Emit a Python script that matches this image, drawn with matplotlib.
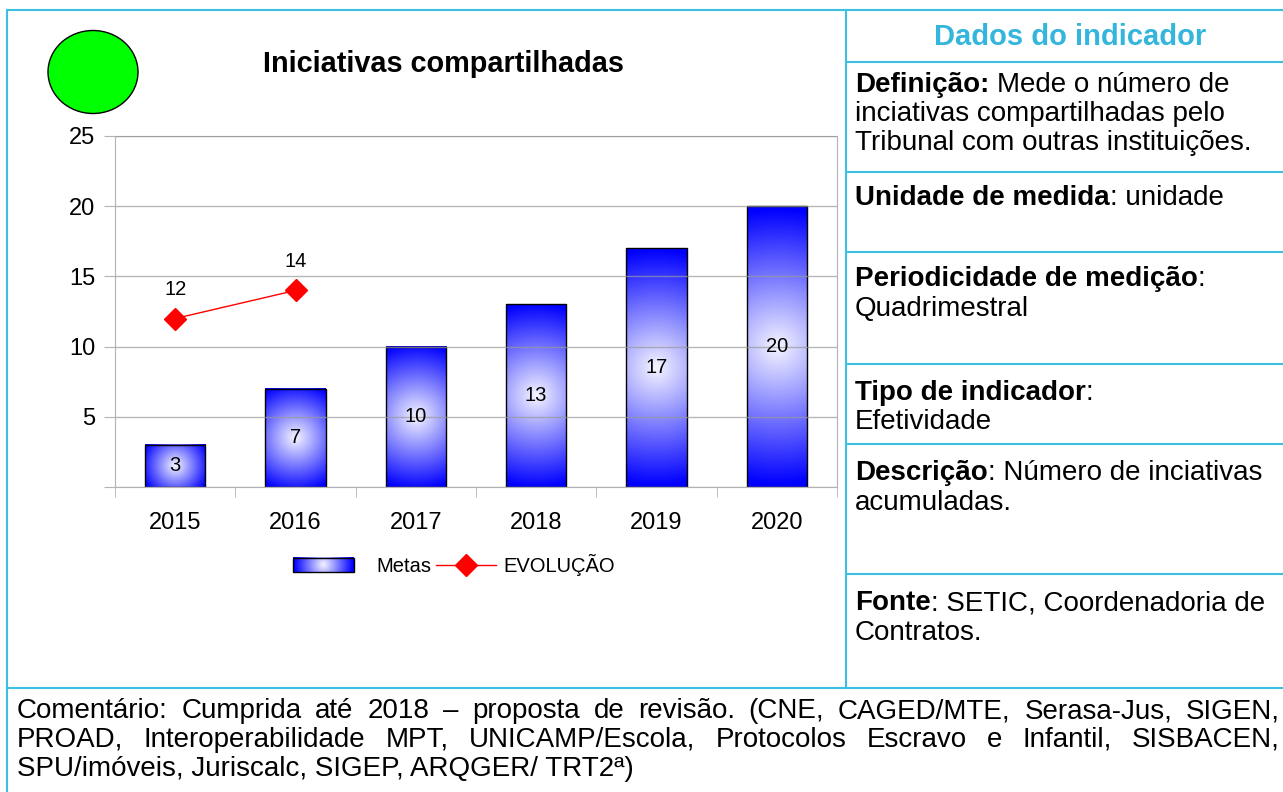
import numpy as np
import matplotlib
matplotlib.use("Agg")
import matplotlib.pyplot as plt
from matplotlib.patches import Ellipse, Rectangle
from matplotlib.lines import Line2D
from matplotlib.legend_handler import HandlerBase
from matplotlib.image import BboxImage
from matplotlib.transforms import Bbox, TransformedBbox

plt.rcParams['font.family'] = ['Liberation Sans', 'DejaVu Sans']

W, H = 1283, 792

# data
years = ["2015", "2016", "2017", "2018", "2019", "2020"]
metas = [3, 7, 10, 13, 17, 20]
evolucao = [12, 14]
y_ticks = [0, 5, 10, 15, 20, 25]

comment_lines = [
    "Comentário: Cumprida até 2018 – proposta de revisão. (CNE, CAGED/MTE, Serasa-Jus, SIGEN,",
    "PROAD, Interoperabilidade MPT, UNICAMP/Escola, Protocolos Escravo e Infantil, SISBACEN,",
    "SPU/imóveis, Juriscalc, SIGEP, ARQGER/ TRT2ª)",
]

BORDER = '#3cbfe0'
GRID = '#b3b3b3'


def fx(x):
    return x / W


def fy(y):
    return 1 - y / H


def radial(nx, ny):
    # white centre fading to blue, radius = half diagonal (like the office gradient)
    xs = np.linspace(-nx / 2, nx / 2, nx)
    ys = np.linspace(-ny / 2, ny / 2, ny)
    X, Y = np.meshgrid(xs, ys)
    r = np.hypot(X, Y) / np.hypot(nx / 2, ny / 2)
    t = np.clip(0.04 + r, 0, 1)[..., None]
    white = np.array([1.0, 1.0, 1.0])
    blue = np.array([0.0, 0.0, 1.0])
    return white * (1 - t) + blue * t


class GradientHandler(HandlerBase):
    def create_artists(self, legend, orig_handle, xdescent, ydescent,
                       width, height, fontsize, trans):
        # drawn a bit left of its box so the label sits further away
        x0 = -xdescent - 0.8 * fontsize
        bb = Bbox.from_bounds(x0, -ydescent, width, height)
        img = BboxImage(TransformedBbox(bb, trans), interpolation='bilinear')
        img.set_data(radial(60, 14))
        rect = Rectangle((x0, -ydescent), width, height,
                         facecolor='none', edgecolor='black', lw=1, transform=trans)
        return [img, rect]


fig = plt.figure(figsize=(W / 100, H / 100), dpi=100)
renderer = fig.canvas.get_renderer()

ax_l, ax_t, ax_r, ax_b = 115, 136, 837, 487
ax = fig.add_axes([fx(ax_l), fy(ax_b), (ax_r - ax_l) / W, (ax_b - ax_t) / H])

x = np.arange(len(years))
bars = ax.bar(x, metas, width=0.5, facecolor='none', edgecolor='black', lw=1, zorder=2)
px_x = (ax_r - ax_l) / len(years)
px_y = (ax_b - ax_t) / y_ticks[-1]
for b, v in zip(bars, metas):
    nx = int(b.get_width() * px_x)
    ny = max(int(v * px_y), 2)
    ax.imshow(radial(nx, ny), extent=(b.get_x(), b.get_x() + b.get_width(), 0, v),
              aspect='auto', zorder=1, interpolation='bilinear')
    ax.text(b.get_x() + b.get_width() / 2, v / 2, str(v), ha='center', va='center',
            fontsize=14.5, zorder=5)

line, = ax.plot(x[:len(evolucao)], evolucao, color='red', lw=1, marker='D', ms=11, zorder=4)
for xi, v in zip(x, evolucao):
    ax.annotate(str(v), (xi, v), xytext=(0, 21), textcoords='offset points',
                ha='center', va='center', fontsize=14.5)

ax.set_xlim(-0.5, len(years) - 0.5)
ax.set_ylim(0, y_ticks[-1])
ax.set_yticks(y_ticks)
ax.set_yticklabels(['' if t == 0 else str(t) for t in y_ticks])
ax.tick_params(axis='y', length=8, color=GRID, labelsize=17, pad=6)
ax.set_xticks(x)
ax.set_xticklabels(years)
ax.set_xticks(np.arange(-0.5, len(years), 1), minor=True)
ax.tick_params(axis='x', which='major', length=0, labelsize=17, pad=18)
ax.tick_params(axis='x', which='minor', length=7, color=GRID)
ax.set_axisbelow(False)
ax.grid(axis='y', color='#999999', lw=1, alpha=0.7)
for s in ax.spines.values():
    s.set_color(GRID)

meta_handle = Rectangle((0, 0), 1, 1)
ax.legend([meta_handle, line], ['Metas', 'EVOLUÇÃO'],
          handler_map={meta_handle: GradientHandler()},
          loc='center', bbox_to_anchor=(fx(462), fy(565)), bbox_transform=fig.transFigure,
          ncol=2, frameon=False, fontsize=14.5, handlelength=3.0,
          handletextpad=0.35, columnspacing=0.2)

# title and status circle
fig.text(fx(443), fy(72), 'Iniciativas compartilhadas', ha='center', va='baseline',
         weight='bold', fontsize=20.8)
fig.add_artist(Ellipse((fx(93), fy(72)), 90 / W, 83 / H, transform=fig.transFigure,
                       facecolor='#00ff00', edgecolor='black', lw=1))


# table borders
def hline(y, x0, x1):
    fig.add_artist(Line2D([fx(x0), fx(x1)], [fy(y), fy(y)], transform=fig.transFigure,
                          color=BORDER, lw=1.5))


def vline(x0, y0, y1):
    fig.add_artist(Line2D([fx(x0), fx(x0)], [fy(y0), fy(y1)], transform=fig.transFigure,
                          color=BORDER, lw=1.5))


hline(10, 7, W)
vline(7, 10, H)
vline(846, 10, 688)
for yy in [62, 172, 252, 364, 444, 574]:
    hline(yy, 846, W)
hline(688, 7, W)


def width_of(s, weight='normal', size=20):
    t = fig.text(0, 0, s, fontsize=size, weight=weight)
    w = t.get_window_extent(renderer).width
    t.remove()
    return w


SPACE = width_of('a a') - width_of('aa')


def runs(x0, y0, parts, size=20):
    xx = x0
    for s, bold in parts:
        wgt = 'bold' if bold else 'normal'
        if s.startswith(' '):
            xx += SPACE
            s = s.lstrip()
        fig.text(fx(xx), fy(y0), s, fontsize=size, weight=wgt, va='baseline')
        xx += width_of(s, wgt, size)


fig.text(fx(1070), fy(45), 'Dados do indicador', ha='center', va='baseline',
         weight='bold', fontsize=21, color='#33b5dc')

runs(855, 92, [("Definição:", True), (" Mede o número de", False)])
runs(855, 121, [("inciativas compartilhadas pelo", False)])
runs(855, 150, [("Tribunal com outras instituições.", False)])
runs(855, 205, [("Unidade de medida", True), (": unidade", False)])
runs(855, 286, [("Periodicidade de medição", True), (":", False)])
runs(855, 316, [("Quadrimestral", False)])
runs(855, 400, [("Tipo de indicador", True), (":", False)])
runs(855, 429, [("Efetividade", False)])
runs(855, 480, [("Descrição", True), (": Número de inciativas", False)])
runs(855, 510, [("acumuladas.", False)])
runs(855, 610, [("Fonte", True), (": SETIC, Coordenadoria de", False)])
runs(855, 640, [("Contratos.", False)])

# justified comment
c_left, c_right = 17, 1280
for i, (txt, yy) in enumerate(zip(comment_lines, [718, 747, 776])):
    words = txt.split(' ')
    if i == len(comment_lines) - 1:
        fig.text(fx(c_left), fy(yy), txt, fontsize=20, va='baseline')
        continue
    ws = [width_of(w_) for w_ in words]
    gap = (c_right - c_left - sum(ws)) / (len(words) - 1)
    xx = c_left
    for w_, wd in zip(words, ws):
        fig.text(fx(xx), fy(yy), w_, fontsize=20, va='baseline')
        xx += wd + gap

fig.savefig('out.png', dpi=100)
